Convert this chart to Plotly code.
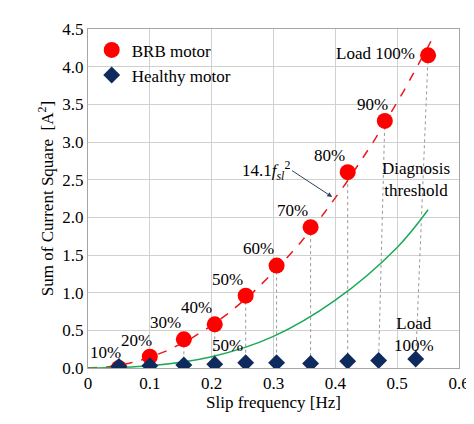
import plotly.graph_objects as go

brb_x = [0.05, 0.10, 0.155, 0.205, 0.255, 0.305, 0.36, 0.42, 0.48, 0.55]
brb_y = [0.0, 0.15, 0.38, 0.58, 0.96, 1.36, 1.87, 2.60, 3.28, 4.15]
brb_labels = ["10%", "20%", "30%", "40%", "50%", "60%", "70%", "80%", "90%", "Load 100%"]
healthy_x = [0.05, 0.10, 0.155, 0.205, 0.255, 0.305, 0.36, 0.42, 0.47, 0.53]
healthy_y = [0.02, 0.03, 0.04, 0.05, 0.07, 0.07, 0.06, 0.09, 0.10, 0.12]
thr_x = [0.0, 0.1, 0.2, 0.3, 0.4, 0.5, 0.55]
thr_y = [0.0, 0.03, 0.15, 0.42, 0.90, 1.60, 2.10]
fit_coef = 14.1

font = dict(family="Liberation Serif, Times New Roman, serif", size=17, color="black")
fig = go.Figure()

# dotted connectors between the two motors at the same load
for x1, y1, x2, y2 in zip(brb_x, brb_y, healthy_x, healthy_y):
    fig.add_trace(go.Scatter(x=[x1, x2], y=[y1, y2], mode="lines", showlegend=False,
                             line=dict(color="#999999", width=1, dash="dot"), hoverinfo="skip"))

fx = [i * 0.555 / 100 for i in range(101)]
fig.add_trace(go.Scatter(x=fx, y=[fit_coef * v * v for v in fx], mode="lines", showlegend=False,
                         line=dict(color="#e8191b", width=1.5, dash="dash")))
fig.add_trace(go.Scatter(x=thr_x, y=thr_y, mode="lines", line_shape="spline", showlegend=False,
                         line=dict(color="#1aaa55", width=1.5)))
fig.add_trace(go.Scatter(x=brb_x, y=brb_y, mode="markers", name="BRB motor",
                         marker=dict(color="#ff0000", size=16)))
fig.add_trace(go.Scatter(x=healthy_x, y=healthy_y, mode="markers", name="Healthy motor",
                         marker=dict(color="#0f2a5c", size=13, symbol="diamond")))

offsets = [(-0.022, 0.2), (-0.022, 0.22), (-0.03, 0.22), (-0.03, 0.22), (-0.03, 0.22),
           (-0.03, 0.22), (-0.03, 0.22), (-0.03, 0.22), (-0.02, 0.22), (-0.085, 0.02)]
for x, y, t, (dx, dy) in zip(brb_x, brb_y, brb_labels, offsets):
    fig.add_annotation(x=x + dx, y=y + dy, text=t, showarrow=False, font=font)

fig.add_annotation(x=0.225, y=0.3, text="50%", showarrow=False, font=font)
fig.add_annotation(x=0.528, y=0.45, text="Load<br>100%", showarrow=False, font=font)
fig.add_annotation(x=0.53, y=2.5, text="Diagnosis<br>threshold", showarrow=False, font=font)
fig.add_annotation(x=0.395, y=2.27, ax=0.33, ay=2.62, axref="x", ayref="y",
                   text="14.1<i>f</i><sub><i>sl</i></sub><sup>2</sup>", showarrow=True,
                   arrowhead=2, arrowsize=1, arrowwidth=1, font=font, xanchor="right")

axis = dict(showgrid=True, gridcolor="#d0d0d0", showline=True, linecolor="#a6a6a6", mirror=True,
            zeroline=False, ticks="", tickfont=font, title_font=font)
fig.update_xaxes(range=[0, 0.6], dtick=0.1, title_text="Slip frequency [Hz]", title_standoff=2, **axis)
fig.update_yaxes(range=[0, 4.5], dtick=0.5, tickformat=".1f",
                 title_text="Sum of Current Square  [A<sup>2</sup>]", title_standoff=4, **axis)
fig.update_layout(width=474, height=424, margin=dict(l=80, r=17, t=12, b=64),
                  plot_bgcolor="white", paper_bgcolor="white", font=font,
                  legend=dict(x=0.01, y=0.99, bgcolor="rgba(255,255,255,0)", font=font,
                              itemsizing="trace", tracegroupgap=0))
fig.write_html("out.html")
